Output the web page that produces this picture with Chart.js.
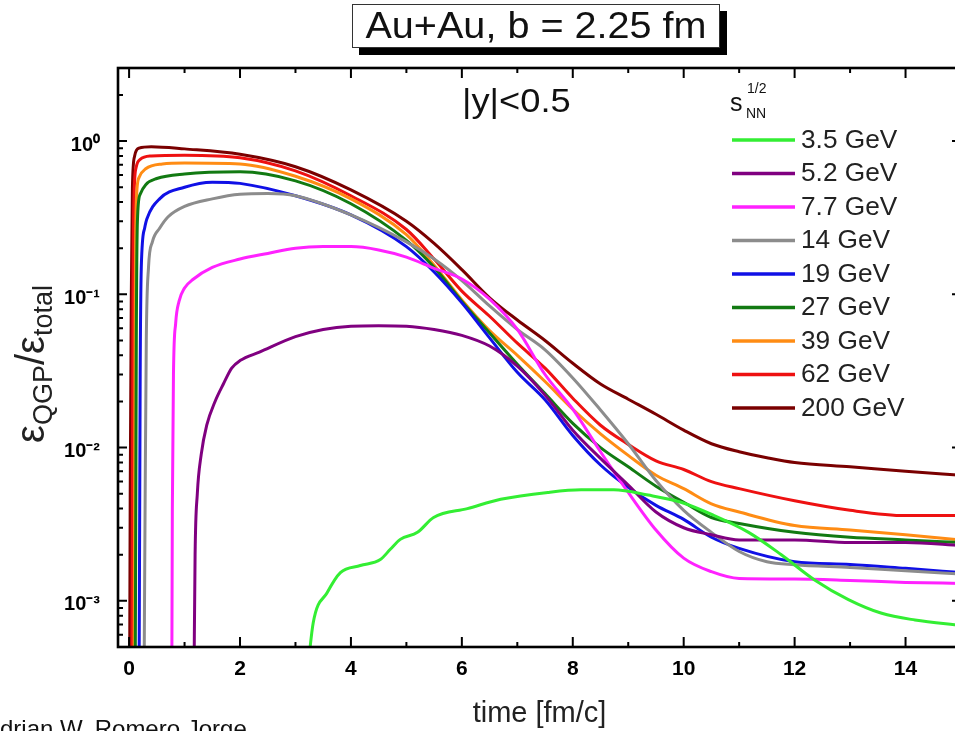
<!DOCTYPE html>
<html><head><meta charset="utf-8">
<script src="https://cdn.jsdelivr.net/npm/chart.js@4.4.1/dist/chart.umd.min.js"></script>
<style>
html,body{margin:0;padding:0;background:#fff;overflow:hidden;width:955px;height:731px}
#wrap{position:relative;width:971px;height:731px}
</style></head><body>
<div id="wrap"><canvas id="c" width="971" height="731"></canvas></div>
<script>
// ---------- data ----------
const seriesLabels = ['3.5 GeV','5.2 GeV','7.7 GeV','14 GeV','19 GeV','27 GeV','39 GeV','62 GeV','200 GeV'];
const seriesColors = ['#33ee33','#800080','#ff22ff','#8c8c8c','#1010e6','#127a12','#ff8c14','#ee1111','#7a0000'];

const t_3_5 = [3.2, 3.32, 3.57, 3.81, 4.17, 4.53, 4.71, 4.89, 5.2, 5.49, 6.1, 6.7, 7.55, 8.15, 8.74, 9.36, 9.95, 10.55, 11.17, 11.76, 12.36, 12.97, 13.57, 14.17, 15];
const v_3_5 = [0.0003, 0.00072, 0.00113, 0.00153, 0.0017, 0.00186, 0.00217, 0.00252, 0.0028, 0.0035, 0.004, 0.0046, 0.0051, 0.0053, 0.0053, 0.0049, 0.0044, 0.0036, 0.0028, 0.002, 0.00137, 0.00102, 0.00083, 0.00075, 0.00069];

const t_5_2 = [1.17, 1.19, 1.23, 1.3, 1.4, 1.55, 1.7, 1.85, 2, 2.35, 3, 3.5, 4, 4.5, 5, 5.5, 6, 6.5, 7, 7.5, 8, 8.5, 9, 9.5, 10, 10.5, 11, 12, 13, 14, 15];
const v_5_2 = [0.0003, 0.002, 0.005, 0.009, 0.014, 0.02, 0.026, 0.033, 0.037, 0.042, 0.053, 0.059, 0.062, 0.0625, 0.062, 0.059, 0.054, 0.046, 0.034, 0.022, 0.013, 0.0085, 0.0057, 0.0038, 0.003, 0.0027, 0.0025, 0.0025, 0.0024, 0.0024, 0.0023];

const t_7_7 = [0.77, 0.78, 0.8, 0.84, 0.9, 1.0, 1.15, 1.5, 2, 2.5, 3, 3.5, 4, 4.5, 5, 5.5, 6, 6.5, 7, 7.5, 8, 8.5, 9, 9.5, 10, 10.5, 11, 12, 13, 14, 15];
const v_7_7 = [0.0003, 0.004, 0.03, 0.065, 0.09, 0.11, 0.125, 0.15, 0.17, 0.185, 0.2, 0.205, 0.205, 0.195, 0.175, 0.148, 0.126, 0.093, 0.059, 0.03, 0.0178, 0.0094, 0.0051, 0.0029, 0.0019, 0.00155, 0.0014, 0.00139, 0.00136, 0.00132, 0.0013];

const t_14 = [0.27, 0.29, 0.31, 0.35, 0.42, 0.55, 0.7, 1, 1.5, 2, 2.5, 3, 4, 5, 5.5, 6, 6.5, 7, 7.5, 8, 8.5, 9, 9.5, 10, 10.5, 11, 11.5, 12, 13, 14, 15];
const v_14 = [0.0003, 0.005, 0.05, 0.15, 0.22, 0.27, 0.32, 0.375, 0.42, 0.45, 0.455, 0.44, 0.33, 0.22, 0.17, 0.123, 0.084, 0.059, 0.0435, 0.0285, 0.0176, 0.0106, 0.0061, 0.0039, 0.0028, 0.0021, 0.0018, 0.00172, 0.00165, 0.00157, 0.0015];

const t_19 = [0.18, 0.19, 0.2, 0.22, 0.28, 0.32, 0.55, 1, 1.5, 2, 3, 4, 5, 5.5, 6, 6.5, 7, 7.5, 8, 8.5, 9, 9.5, 10, 10.5, 11, 12, 13, 14, 15];
const v_19 = [0.0003, 0.003, 0.03, 0.15, 0.27, 0.31, 0.42, 0.5, 0.54, 0.53, 0.44, 0.33, 0.205, 0.14, 0.088, 0.052, 0.031, 0.0205, 0.012, 0.0077, 0.0055, 0.0042, 0.0034, 0.0026, 0.0022, 0.0018, 0.00173, 0.00163, 0.00153];

const t_27 = [0.11, 0.12, 0.13, 0.15, 0.2, 0.3, 0.5, 1, 2, 3, 4, 5, 5.5, 6, 6.5, 7, 7.5, 8, 8.5, 9, 9.5, 10, 10.5, 11, 12, 13, 14, 15];
const v_27 = [0.0003, 0.003, 0.05, 0.3, 0.45, 0.52, 0.57, 0.61, 0.63, 0.55, 0.39, 0.225, 0.15, 0.09, 0.056, 0.035, 0.0225, 0.0144, 0.01, 0.0075, 0.0056, 0.0044, 0.0035, 0.0032, 0.0028, 0.0026, 0.0025, 0.0024];

const t_39 = [0.09, 0.1, 0.11, 0.13, 0.18, 0.3, 0.6, 1, 2, 3, 4, 5, 5.5, 6, 6.5, 7, 7.5, 8, 8.5, 9, 9.5, 10, 10.5, 11, 12, 13, 14, 15];
const v_39 = [0.0003, 0.005, 0.08, 0.4, 0.58, 0.66, 0.71, 0.72, 0.71, 0.59, 0.42, 0.245, 0.155, 0.092, 0.058, 0.04, 0.027, 0.0178, 0.0123, 0.0089, 0.0066, 0.0054, 0.0043, 0.0038, 0.0031, 0.0029, 0.0027, 0.0025];

const t_62 = [0.05, 0.06, 0.07, 0.09, 0.13, 0.2, 0.4, 1, 2, 3, 4, 5, 5.5, 6, 6.5, 7, 7.5, 8, 8.5, 9, 9.5, 10, 10.5, 11, 12, 13, 14, 15];
const v_62 = [0.0003, 0.005, 0.1, 0.45, 0.68, 0.76, 0.8, 0.81, 0.78, 0.64, 0.44, 0.265, 0.17, 0.105, 0.072, 0.048, 0.033, 0.021, 0.014, 0.0105, 0.0082, 0.0072, 0.006, 0.0054, 0.0045, 0.0039, 0.0036, 0.0036];

const t_200 = [0.01, 0.02, 0.04, 0.06, 0.1, 0.18, 0.4, 1, 2, 3, 4, 5, 5.5, 6, 6.5, 7, 7.5, 8, 8.5, 9, 9.5, 10, 10.5, 11, 11.5, 12, 13, 14, 15];
const v_200 = [0.0003, 0.005, 0.1, 0.5, 0.8, 0.9, 0.92, 0.89, 0.82, 0.68, 0.48, 0.3, 0.215, 0.145, 0.095, 0.068, 0.05, 0.0355, 0.026, 0.0207, 0.0165, 0.013, 0.0106, 0.0094, 0.0086, 0.008, 0.0075, 0.007, 0.0066];

const seriesT = [t_3_5, t_5_2, t_7_7, t_14, t_19, t_27, t_39, t_62, t_200];
const seriesV = [v_3_5, v_5_2, v_7_7, v_14, v_19, v_27, v_39, v_62, v_200];

const xTickValues = [0,1,2,3,4,5,6,7,8,9,10,11,12,13,14,15];
const xTickLabels = ['0','','2','','4','','6','','8','','10','','12','','14',''];
const yDecades = [0.001, 0.01, 0.1, 1];
const yTickLabels = ['10⁻³','10⁻²','10⁻¹','10⁰'];

const titleText = 'Au+Au, b = 2.25 fm';
const rapidityText = '|y|<0.5';
const xTitle = 'time [fm/c]';
const creditText = 'drian W. Romero Jorge';

// ---------- chart ----------
const FAM = "'Liberation Sans', Arial, sans-serif";
const NARROW = "'Liberation Sans Narrow', 'Liberation Sans', Arial, sans-serif";

const datasets = seriesLabels.map((lab, i) => ({
  label: lab,
  data: seriesT[i].map((t, j) => ({x: t, y: seriesV[i][j]})),
  borderColor: seriesColors[i],
  backgroundColor: seriesColors[i],
  borderWidth: 3,
  pointRadius: 0,
  fill: false,
  cubicInterpolationMode: 'monotone'
}));

function stretchText(ctx, text, x, y, sx) {
  ctx.save();
  ctx.translate(x, y);
  ctx.scale(sx, 1);
  ctx.fillText(text, 0, 0);
  ctx.restore();
}

const decor = {
  id: 'decor',
  afterDatasetsDraw(chart) {
    const {ctx, chartArea: a, scales: {x, y}} = chart;
    ctx.save();
    ctx.strokeStyle = '#000';
    ctx.lineWidth = 2;
    ctx.beginPath();
    for (const v of xTickValues) {
      const px = x.getPixelForValue(v);
      const len = v % 2 === 0 ? 10 : 5;
      ctx.moveTo(px, a.bottom); ctx.lineTo(px, a.bottom - len);
      ctx.moveTo(px, a.top); ctx.lineTo(px, a.top + len);
    }
    for (let e = -4; e <= 0; e++) {
      for (let k = 1; k <= 9; k++) {
        const v = k * Math.pow(10, e);
        if (v < y.min || v > y.max) continue;
        const py = y.getPixelForValue(v);
        const len = k === 1 ? 9 : 5;
        ctx.moveTo(a.left, py); ctx.lineTo(a.left + len, py);
        ctx.moveTo(a.right, py); ctx.lineTo(a.right - len, py);
      }
    }
    ctx.stroke();
    ctx.lineWidth = 2.6;
    ctx.strokeRect(a.left, a.top, a.right - a.left, a.bottom - a.top);
    ctx.restore();
  },
  afterDraw(chart) {
    const ctx = chart.ctx;
    ctx.save();
    // title box with shadow
    ctx.fillStyle = '#000';
    ctx.fillRect(359, 11, 368, 44);
    ctx.fillStyle = '#fff';
    ctx.fillRect(352, 4, 368, 44);
    ctx.strokeStyle = '#333';
    ctx.lineWidth = 1;
    ctx.strokeRect(352.5, 4.5, 367, 43);
    ctx.fillStyle = '#111';
    ctx.font = '36px ' + FAM;
    ctx.textAlign = 'center';
    ctx.textBaseline = 'middle';
    stretchText(ctx, titleText, 536, 28, 1.1);

    // |y|<0.5
    ctx.textAlign = 'left';
    ctx.font = '33px ' + FAM;
    stretchText(ctx, rapidityText, 462, 103, 1.1);

    // legend title s_NN^{1/2}
    ctx.textBaseline = 'alphabetic';
    ctx.font = '25px ' + FAM;
    ctx.fillText('s', 730, 111);
    ctx.font = '14px ' + FAM;
    ctx.fillText('1/2', 747, 93);
    ctx.fillText('NN', 746, 118);

    // legend entries
    ctx.textBaseline = 'middle';
    chart.data.datasets.forEach((ds, i) => {
      const yy = 140 + i * 33.5;
      ctx.strokeStyle = ds.borderColor;
      ctx.lineWidth = 3.5;
      ctx.beginPath();
      ctx.moveTo(732, yy); ctx.lineTo(795, yy);
      ctx.stroke();
      ctx.fillStyle = '#222';
      ctx.font = '25px ' + FAM;
      stretchText(ctx, ds.label, 801, yy + 1, 1.05);
    });

    // y-axis title: eps_QGP / eps_total (rotated)
    ctx.translate(35, 364);
    ctx.rotate(-Math.PI / 2);
    const parts = [
      {t: 'ε', s: 40, dy: 0},
      {t: 'QGP', s: 27, dy: 8},
      {t: '/', s: 40, dy: 0},
      {t: 'ε', s: 40, dy: 0},
      {t: 'total', s: 27, dy: 8}
    ];
    let w = 0;
    parts.forEach(p => { ctx.font = p.s + 'px ' + FAM; p.w = ctx.measureText(p.t).width; w += p.w; });
    let xx = -w / 2;
    ctx.fillStyle = '#222';
    ctx.textAlign = 'left';
    ctx.textBaseline = 'alphabetic';
    parts.forEach(p => { ctx.font = p.s + 'px ' + FAM; ctx.fillText(p.t, xx, 9 + p.dy); xx += p.w; });
    ctx.setTransform(1, 0, 0, 1, 0, 0);

    // credit text at bottom-left (cut by page edge)
    ctx.fillStyle = '#111';
    ctx.font = '24px ' + FAM;
    ctx.textAlign = 'left';
    ctx.textBaseline = 'alphabetic';
    ctx.fillText(creditText, 0, 737);
    ctx.restore();
  }
};

new Chart(document.getElementById('c'), {
  type: 'line',
  data: { datasets },
  options: {
    responsive: false,
    animation: false,
    devicePixelRatio: 1,
    layout: { padding: { top: 68, right: 3, left: 0, bottom: 0 } },
    plugins: { legend: { display: false }, tooltip: { enabled: false } },
    scales: {
      x: {
        type: 'linear', position: 'bottom', min: -0.2, max: 15,
        afterFit(s) { s.height = 84; },
        afterBuildTicks(s) { s.ticks = xTickValues.map(v => ({value: v})); },
        grid: { display: false, drawTicks: false },
        border: { display: false },
        ticks: {
          autoSkip: false, maxRotation: 0, padding: 10, color: '#000',
          font: { family: NARROW, size: 21, weight: 'bold' },
          callback: (v, i) => xTickLabels[i]
        },
        title: {
          display: true, text: xTitle, color: '#222',
          font: { family: FAM, size: 29 }, padding: { top: 0, bottom: 0 }
        }
      },
      y: {
        type: 'logarithmic', position: 'left', min: 0.0005, max: 3,
        afterFit(s) { s.width = 118; },
        afterBuildTicks(s) { s.ticks = yDecades.map(v => ({value: v})); },
        grid: { display: false, drawTicks: false },
        border: { display: false },
        ticks: {
          autoSkip: false, padding: 18, labelOffset: 4, color: '#000',
          font: { family: NARROW, size: 20, weight: 'bold' },
          callback: (v, i) => yTickLabels[i]
        }
      }
    }
  },
  plugins: [decor]
});
</script>
</body></html>
